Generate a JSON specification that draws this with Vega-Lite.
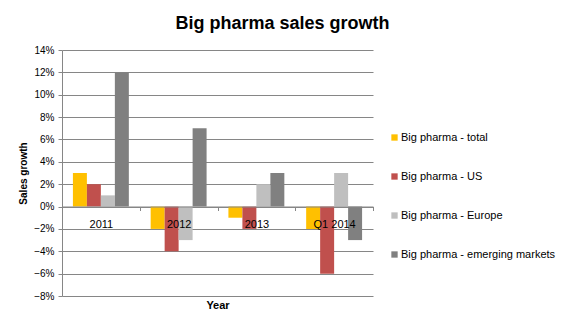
{
  "$schema": "https://vega.github.io/schema/vega-lite/v6.json",
  "width": 311,
  "height": 246,
  "autosize": {"type": "none"},
  "padding": {"left": 62, "top": 50, "right": 192, "bottom": 32},
  "background": "white",
  "title": {
    "text": "Big pharma sales growth",
    "font": "Liberation Sans",
    "fontSize": 18,
    "fontWeight": "bold",
    "color": "#000000",
    "anchor": "middle",
    "dx": 65,
    "offset": 12
  },
  "data": {
    "values": [
      {"year": "2011", "series": "Big pharma - total", "value": 0.03},
      {"year": "2011", "series": "Big pharma - US", "value": 0.02},
      {"year": "2011", "series": "Big pharma - Europe", "value": 0.01},
      {"year": "2011", "series": "Big pharma - emerging markets", "value": 0.12},
      {"year": "2012", "series": "Big pharma - total", "value": -0.02},
      {"year": "2012", "series": "Big pharma - US", "value": -0.04},
      {"year": "2012", "series": "Big pharma - Europe", "value": -0.03},
      {"year": "2012", "series": "Big pharma - emerging markets", "value": 0.07},
      {"year": "2013", "series": "Big pharma - total", "value": -0.01},
      {"year": "2013", "series": "Big pharma - US", "value": -0.02},
      {"year": "2013", "series": "Big pharma - Europe", "value": 0.02},
      {"year": "2013", "series": "Big pharma - emerging markets", "value": 0.03},
      {"year": "Q1 2014", "series": "Big pharma - total", "value": -0.02},
      {"year": "Q1 2014", "series": "Big pharma - US", "value": -0.06},
      {"year": "Q1 2014", "series": "Big pharma - Europe", "value": 0.03},
      {"year": "Q1 2014", "series": "Big pharma - emerging markets", "value": -0.03}
    ]
  },
  "mark": {"type": "bar"},
  "encoding": {
    "x": {
      "field": "year",
      "type": "nominal",
      "sort": ["2011", "2012", "2013", "Q1 2014"],
      "scale": {"paddingInner": 0, "paddingOuter": 0},
      "axis": {
        "title": "Year",
        "titleFont": "Liberation Sans",
        "titleFontSize": 11,
        "titleFontWeight": "bold",
        "titleColor": "#000000",
        "titleBaseline": "middle",
        "titleY": 99,
        "offset": -89.5,
        "zindex": 2,
        "labelAngle": 0,
        "labelFont": "Liberation Sans",
        "labelFontSize": 11,
        "labelColor": "#000000",
        "labelPadding": 8,
        "domainColor": "#868686",
        "tickColor": "#868686",
        "tickBand": "extent",
        "tickSize": 4,
        "grid": false
      }
    },
    "xOffset": {
      "field": "series",
      "type": "nominal",
      "sort": ["Big pharma - total", "Big pharma - US", "Big pharma - Europe", "Big pharma - emerging markets"],
      "scale": {"paddingInner": 0, "paddingOuter": 0.78}
    },
    "y": {
      "field": "value",
      "type": "quantitative",
      "scale": {"domain": [-0.08, 0.14], "nice": false, "zero": false},
      "axis": {
        "title": "Sales growth",
        "titleFont": "Liberation Sans",
        "titleFontSize": 10,
        "titleFontWeight": "bold",
        "titleColor": "#000000",
        "titlePadding": 5,
        "values": [-0.08, -0.06, -0.04, -0.02, 0, 0.02, 0.04, 0.06, 0.08, 0.1, 0.12, 0.14],
        "format": ".0%",
        "labelFont": "Liberation Sans",
        "labelFontSize": 10,
        "labelColor": "#000000",
        "labelPadding": 4,
        "domainColor": "#868686",
        "tickColor": "#868686",
        "tickSize": 4,
        "gridColor": "#868686",
        "gridWidth": 1,
        "grid": true
      }
    },
    "color": {
      "field": "series",
      "type": "nominal",
      "sort": ["Big pharma - total", "Big pharma - US", "Big pharma - Europe", "Big pharma - emerging markets"],
      "scale": {
        "domain": ["Big pharma - total", "Big pharma - US", "Big pharma - Europe", "Big pharma - emerging markets"],
        "range": ["#FFC000", "#C0504D", "#BFBFBF", "#808080"]
      },
      "legend": {
        "title": null,
        "orient": "none",
        "legendX": 327,
        "legendY": 82,
        "symbolType": "square",
        "symbolSize": 40,
        "symbolStrokeWidth": 0,
        "labelFont": "Liberation Sans",
        "labelFontSize": 11,
        "labelColor": "#000000",
        "labelOffset": 1,
        "rowPadding": 27
      }
    }
  },
  "config": {
    "view": {"stroke": null}
  }
}
